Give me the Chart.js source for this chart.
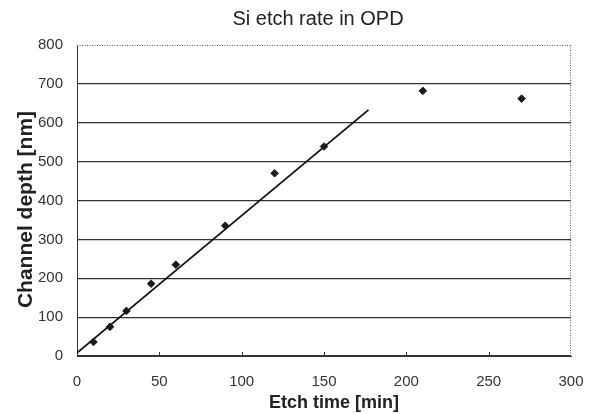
<!DOCTYPE html>
<html>
<head>
<meta charset="utf-8">
<script src="https://cdn.jsdelivr.net/npm/chart.js@4/dist/chart.umd.min.js"></script>
<style>
  html, body { margin: 0; padding: 0; background: #fff; }
  #wrap { width: 602px; height: 414px; position: relative; }
</style>
</head>
<body>
<div id="wrap"><canvas id="etchChart"></canvas></div>
<script>
// measured points (time in min, depth in nm)
const etchTimes = [10, 20, 30, 45, 60, 90, 120, 150, 210, 270];
const depths = [36, 75, 116, 186, 235, 335, 470, 539, 682, 662];

// linear fit drawn over the first part
const fitTimes = [0, 177];
const fitDepths = [8, 633];

const xTicks = [0, 50, 100, 150, 200, 250, 300];
const yTicks = [0, 100, 200, 300, 400, 500, 600, 700, 800];

const chartTitle = 'Si etch rate in OPD';
const xTitle = 'Etch time [min]';
const yTitle = 'Channel depth [nm]';

const FONT = "'Liberation Sans', Arial, sans-serif";

// dotted top/right frame, inward x ticks, and the text around the plot
const framePlugin = {
    id: 'frame',
    afterDraw(chart) {
        const { ctx, chartArea } = chart;
        ctx.save();
        ctx.strokeStyle = '#555';
        ctx.lineWidth = 1;
        ctx.setLineDash([1, 1.5]);
        ctx.beginPath();
        ctx.moveTo(chartArea.left, chartArea.top + 0.5);
        ctx.lineTo(chartArea.right, chartArea.top + 0.5);
        ctx.moveTo(chartArea.right - 0.5, chartArea.top);
        ctx.lineTo(chartArea.right - 0.5, chartArea.bottom);
        ctx.stroke();
        ctx.setLineDash([]);

        const xs = chart.scales.x;
        ctx.strokeStyle = '#333';
        ctx.beginPath();
        xTicks.slice(1, -1).forEach(v => {
            const px = Math.round(xs.getPixelForValue(v)) + 0.5;
            ctx.moveTo(px, chartArea.bottom);
            ctx.lineTo(px, chartArea.bottom - 4);
        });
        ctx.stroke();

        const midX = (chartArea.left + chartArea.right) / 2;
        const midY = (chartArea.top + chartArea.bottom) / 2;
        ctx.fillStyle = '#222';
        ctx.textAlign = 'center';
        ctx.textBaseline = 'middle';
        ctx.font = '20px ' + FONT;
        ctx.fillText(chartTitle, midX - 6, 19);

        ctx.font = 'bold 18px ' + FONT;
        ctx.fillText(xTitle, midX + 10, 403);

        ctx.translate(26, midY + 9);
        ctx.rotate(-Math.PI / 2);
        ctx.font = 'bold 21px ' + FONT;
        ctx.fillText(yTitle, 0, 0);
        ctx.restore();
    }
};

const ctx = document.getElementById('etchChart').getContext('2d');
new Chart(ctx, {
    type: 'scatter',
    data: {
        datasets: [{
            label: 'Measured',
            data: etchTimes.map((t, i) => ({ x: t, y: depths[i] })),
            pointStyle: 'rectRot',
            pointRadius: 3.8,
            backgroundColor: '#1a1a1a',
            borderColor: '#1a1a1a',
            borderWidth: 1,
            showLine: false
        }, {
            label: 'Fit',
            data: fitTimes.map((t, i) => ({ x: t, y: fitDepths[i] })),
            showLine: true,
            borderColor: '#111',
            borderWidth: 1.8,
            pointRadius: 0
        }]
    },
    options: {
        responsive: true,
        maintainAspectRatio: false,
        animation: false,
        layout: {
            padding: { top: 45, right: 31, bottom: 6, left: 24 }
        },
        scales: {
            x: {
                type: 'linear',
                min: 0,
                max: 300,
                afterBuildTicks: (axis) => { axis.ticks = xTicks.map(v => ({ value: v })); },
                grid: { drawOnChartArea: false, drawTicks: false },
                border: { color: '#333', width: 1 },
                ticks: {
                    color: '#333',
                    padding: 17,
                    maxRotation: 0,
                    font: { family: FONT, size: 15 }
                }
            },
            y: {
                min: 0,
                max: 800,
                afterBuildTicks: (axis) => { axis.ticks = yTicks.map(v => ({ value: v })); },
                grid: {
                    drawTicks: false,
                    color: (c) => (c.tick && c.tick.value === 800) ? 'rgba(0,0,0,0)' : '#333',
                    lineWidth: 1.2
                },
                border: { color: '#333', width: 1 },
                ticks: {
                    color: '#333',
                    padding: 14,
                    font: { family: FONT, size: 15 }
                }
            }
        },
        plugins: {
            legend: { display: false },
            title: { display: false },
            tooltip: { enabled: false }
        }
    },
    plugins: [framePlugin]
});
</script>
</body>
</html>
